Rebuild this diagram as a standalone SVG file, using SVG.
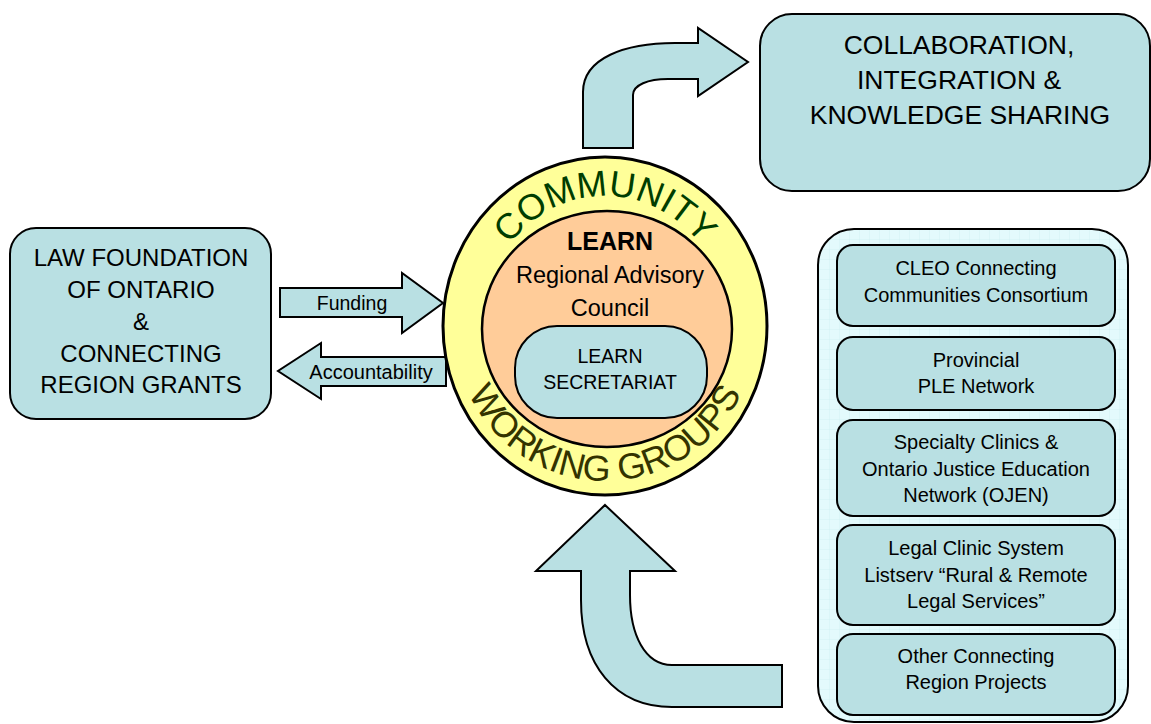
<svg xmlns="http://www.w3.org/2000/svg" width="1151" height="724" viewBox="0 0 1151 724">
<defs>
<style>
.box{fill:#b9e0e3;stroke:#000;stroke-width:2}
.arr{fill:#b9e0e3;stroke:#000;stroke-width:2;stroke-linejoin:miter}
.t{font-family:"Liberation Sans",Arial,sans-serif;fill:#000;text-anchor:middle}
.big{font-size:24px}
.huge{font-size:26.5px}
.mid{font-size:20px}
.ring{font-family:"Liberation Sans",Arial,sans-serif;font-size:36px;text-anchor:middle}
</style>
<pattern id="grid" width="10" height="10" patternUnits="userSpaceOnUse">
<rect width="10" height="10" fill="#e3fafc"/>
<path d="M10 0V10M0 10H10" stroke="#cdeff2" stroke-width="0.7" fill="none"/>
</pattern>
<path id="topArc" d="M 481 330 A 124 134 0 0 1 729 330"/>
<path id="botArc" d="M 454 328 A 151 153 0 0 0 756 328"/>
</defs>
<rect width="1151" height="724" fill="#fff"/>

<g id="connectors">
<path class="arr" d="M 583 148 L 583 92 C 583 58 625 43 675 43 L 698 43 L 698 28 L 748 62 L 698 96 L 698 79 L 668 79 C 648 79 633 85 633 95 L 633 148 Z"/>
<path class="arr" d="M 605 505 L 675 571 L 630 571 L 630 595 C 630 635 645 665 672 665 L 782 665 L 782 707 L 672 707 C 615 707 581 665 581 600 L 581 571 L 536 571 Z"/>
<g id="funding">
<path class="arr" d="M 280 288 L 402 288 L 402 273 L 443 303 L 402 333 L 402 317 L 280 317 Z"/>
<text class="t" x="352" y="310" font-size="19.5">Funding</text>
</g>
<g id="accountability">
<path class="arr" d="M 446 357 L 321 357 L 321 343 L 278 371 L 321 399 L 321 386 L 446 386 Z"/>
<text class="t" x="371" y="379" font-size="20">Accountability</text>
</g>
</g>

<g id="collab">
<rect class="box" x="760" y="14" width="390" height="177" rx="32"/>
<text class="t huge" x="959" y="54">COLLABORATION,</text>
<text class="t huge" x="959" y="89">INTEGRATION &amp;</text>
<text class="t huge" x="960" y="124">KNOWLEDGE SHARING</text>
</g>

<g id="lawfoundation">
<rect class="box" x="10" y="228" width="261" height="191" rx="26"/>
<text class="t big" x="141" y="266">LAW FOUNDATION</text>
<text class="t big" x="141" y="298">OF ONTARIO</text>
<text class="t big" x="141" y="330">&amp;</text>
<text class="t big" x="141" y="362">CONNECTING</text>
<text class="t big" x="141" y="393">REGION GRANTS</text>
</g>

<g id="community">
<ellipse cx="605" cy="326" rx="162" ry="169" fill="#ffff99" stroke="#000" stroke-width="3"/>
<text class="ring" fill="#003d00"><textPath href="#topArc" startOffset="50%">COMMUNITY</textPath></text>
<text class="ring" fill="#333300"><textPath href="#botArc" startOffset="50%">WORKING GROUPS</textPath></text>
</g>

<g id="council">
<ellipse cx="607" cy="329" rx="125" ry="118" fill="#ffcc99" stroke="#000" stroke-width="2.5"/>
<text class="t" x="610" y="250" font-size="25" font-weight="bold">LEARN</text>
<text class="t" x="610" y="283" font-size="23.5">Regional Advisory</text>
<text class="t" x="610" y="316" font-size="23.5">Council</text>
</g>

<g id="secretariat">
<rect class="box" x="515" y="326" width="192" height="92" rx="42"/>
<text class="t" x="610" y="363" font-size="19.5">LEARN</text>
<text class="t" x="610" y="389" font-size="19.5">SECRETARIAT</text>
</g>

<g id="partners">
<rect x="818" y="229" width="310" height="493" rx="36" fill="url(#grid)" stroke="#000" stroke-width="2"/>
<g id="cleo">
<rect class="box" x="837" y="245" width="278" height="81" rx="16"/>
<text class="t mid" x="976" y="275">CLEO Connecting</text>
<text class="t mid" x="976" y="302">Communities Consortium</text>
</g>
<g id="ple">
<rect class="box" x="837" y="337" width="278" height="73" rx="16"/>
<text class="t mid" x="976" y="367">Provincial</text>
<text class="t mid" x="976" y="393">PLE Network</text>
</g>
<g id="ojen">
<rect class="box" x="837" y="420" width="278" height="96" rx="16"/>
<text class="t mid" x="976" y="449">Specialty Clinics &amp;</text>
<text class="t mid" x="976" y="476">Ontario Justice Education</text>
<text class="t mid" x="976" y="502">Network (OJEN)</text>
</g>
<g id="listserv">
<rect class="box" x="837" y="525" width="278" height="100" rx="16"/>
<text class="t mid" x="976" y="555">Legal Clinic System</text>
<text class="t mid" x="976" y="582">Listserv “Rural &amp; Remote</text>
<text class="t mid" x="976" y="608">Legal Services”</text>
</g>
<g id="other">
<rect class="box" x="837" y="634" width="278" height="81" rx="16"/>
<text class="t mid" x="976" y="663">Other Connecting</text>
<text class="t mid" x="976" y="689">Region Projects</text>
</g>
</g>
</svg>
